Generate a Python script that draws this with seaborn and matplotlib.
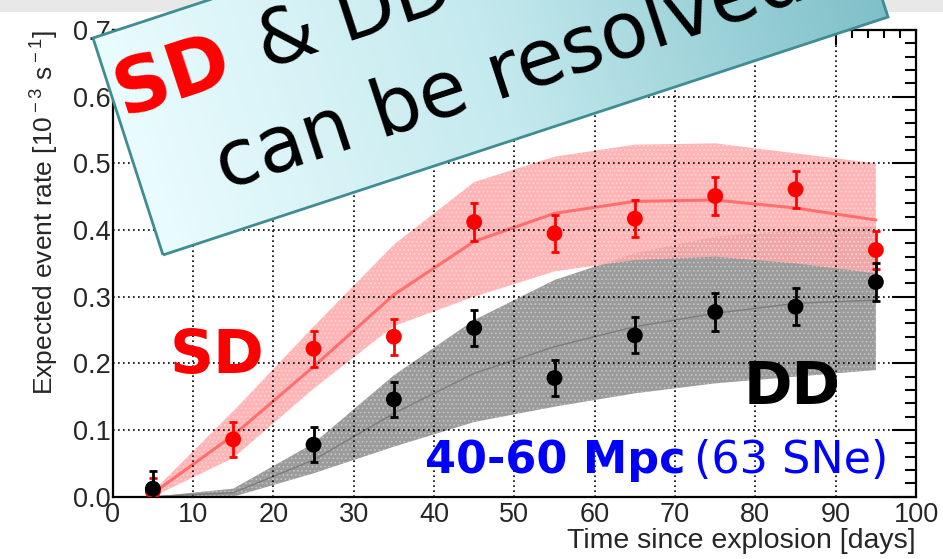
import numpy as np
import matplotlib
matplotlib.use("Agg")
import matplotlib.pyplot as plt
from matplotlib.patches import Polygon, Rectangle
from matplotlib.colors import LinearSegmentedColormap
from matplotlib.ticker import MultipleLocator, FormatStrFormatter
import seaborn as sns

# Binned expected event rates (10^-3 s^-1) versus time since explosion
days = [5, 15, 25, 35, 45, 55, 65, 75, 85, 95]
sd_rate = [0.008, 0.086, 0.222, 0.240, 0.412, 0.395, 0.417, 0.451, 0.461, 0.370]
sd_err = [0.020, 0.026, 0.027, 0.027, 0.028, 0.028, 0.028, 0.028, 0.028, 0.028]
dd_rate = [0.012, None, 0.078, 0.146, 0.253, 0.178, 0.242, 0.277, 0.285, 0.322]
dd_err = [0.026, None, 0.026, 0.026, 0.027, 0.027, 0.027, 0.028, 0.028, 0.028]

# Model expectation and its uncertainty band for each scenario
sd_model = [0.005, 0.092, 0.195, 0.303, 0.383, 0.425, 0.443, 0.445, 0.433, 0.415]
sd_low = [0.000, 0.058, 0.162, 0.256, 0.300, 0.338, 0.355, 0.360, 0.350, 0.335]
sd_high = [0.008, 0.128, 0.255, 0.378, 0.472, 0.510, 0.528, 0.530, 0.515, 0.500]
dd_model = [0.000, 0.006, 0.055, 0.125, 0.185, 0.225, 0.255, 0.275, 0.290, 0.295]
dd_low = [0.000, 0.000, 0.035, 0.075, 0.112, 0.135, 0.155, 0.170, 0.180, 0.190]
dd_high = [0.000, 0.012, 0.080, 0.182, 0.265, 0.325, 0.365, 0.390, 0.400, 0.405]

x_ticks = list(range(0, 101, 10))
y_ticks = [0.0, 0.1, 0.2, 0.3, 0.4, 0.5, 0.6, 0.7]

sns.set_style("white")
plt.rcParams["font.family"] = ["Liberation Sans", "DejaVu Sans"]
plt.rcParams["mathtext.fontset"] = "custom"
plt.rcParams["mathtext.rm"] = "Liberation Sans"
plt.rcParams["hatch.linewidth"] = 0.7

fig = plt.figure(figsize=(9.43, 5.59), dpi=100)
fig.patch.set_facecolor("white")
ax = fig.add_axes([0.1195, 0.1115, 0.8519, 0.8348])

# uncertainty bands (stippled)
ax.fill_between(days, dd_low, dd_high, facecolor="#9b9b9b", edgecolor="#c4c4c4",
                hatch="....", linewidth=0, zorder=1)
ax.fill_between(days, sd_low, sd_high, facecolor="#ffa8a8", edgecolor="#ffd9d9",
                hatch="....", linewidth=0, alpha=0.85, zorder=1.2)

# model curves
sns.lineplot(x=days, y=sd_model, color="#ff6f6f", linewidth=2.2, ax=ax, zorder=2)
sns.lineplot(x=days, y=dd_model, color="#7c7c7c", linewidth=1.0, ax=ax, zorder=2)

# binned rates with errors
sd_x = [d for d, v in zip(days, sd_rate) if v is not None]
sd_y = [v for v in sd_rate if v is not None]
sd_e = [e for e in sd_err if e is not None]
dd_x = [d for d, v in zip(days, dd_rate) if v is not None]
dd_y = [v for v in dd_rate if v is not None]
dd_e = [e for e in dd_err if e is not None]

ax.errorbar(sd_x, sd_y, yerr=sd_e, fmt="none", ecolor="#ff0000", elinewidth=2,
            capsize=3, capthick=2, zorder=3)
sns.scatterplot(x=sd_x, y=sd_y, color="#ff0000", s=130, edgecolor="none", ax=ax, zorder=3.1)
ax.errorbar(dd_x, dd_y, yerr=dd_e, fmt="none", ecolor="black", elinewidth=2,
            capsize=3, capthick=2, zorder=3.2)
sns.scatterplot(x=dd_x, y=dd_y, color="black", s=130, edgecolor="none", ax=ax, zorder=3.3)

# axes styling
ax.set_xlim(0, 100)
ax.set_ylim(0, 0.7)
ax.set_xticks(x_ticks)
ax.set_yticks(y_ticks)
ax.xaxis.set_minor_locator(MultipleLocator(2))
ax.yaxis.set_minor_locator(MultipleLocator(0.02))
ax.yaxis.set_major_formatter(FormatStrFormatter("%.1f"))
ax.grid(True, which="major", color="black", linestyle=(0, (1, 2)), linewidth=1.2)
ax.set_axisbelow(False)
ax.tick_params(axis="both", which="both", direction="in", top=True, right=True,
               width=1.5, color="black", labelsize=19.5)
ax.tick_params(axis="x", which="major", length=11, pad=4)
ax.tick_params(axis="x", which="minor", length=6)
ax.tick_params(axis="y", which="major", length=17, pad=1.5)
ax.tick_params(axis="y", which="minor", length=8)
for sp in ax.spines.values():
    sp.set_linewidth(1.6)
    sp.set_color("black")

ax.set_xlabel("Time since explosion [days]", loc="right", fontsize=20.5, labelpad=0)
ax.set_ylabel(r"Expected event rate [10$^{\rm -3}$ s$^{\rm -1}$]", loc="top",
              fontsize=19, labelpad=9)

# scenario labels
ax.text(12.95, 0.21, "SD", color="#ff0000", fontsize=44, fontweight="bold",
        family="DejaVu Sans", ha="center", va="center", zorder=5)
ax.text(84.6, 0.164, "DD", color="black", fontsize=42, fontweight="bold",
        family="DejaVu Sans", ha="center", va="center", zorder=5)
ax.text(38.9, 0.0355, "40-60 Mpc", color="#0000ff", fontsize=32, fontweight="bold",
        family="DejaVu Sans", ha="left", va="baseline", zorder=5)
ax.text(72.3, 0.0355, "(63 SNe)", color="#0000ff", fontsize=32,
        family="DejaVu Sans", ha="left", va="baseline", zorder=5)

# overlay in pixel coordinates for the banner
ov = fig.add_axes([0, 0, 1, 1])
ov.set_xlim(0, 943)
ov.set_ylim(559, 0)
ov.axis("off")
ov.patch.set_alpha(0)

ov.add_patch(Rectangle((0, 0), 943, 12, facecolor="#e8e8e8", edgecolor="none", zorder=1))

corners = np.array([[163, 255], [888, 17], [818, -200], [93, 38]], dtype=float)
u = corners[1] - corners[0]
w = np.hypot(*u)
u = u / w
gx = np.linspace(80, 900, 600)
gy = np.linspace(-210, 265, 400)
GX, GY = np.meshgrid(gx, gy)
t = ((GX - corners[0, 0]) * u[0] + (GY - corners[0, 1]) * u[1]) / w
t = np.clip(t, 0, 1)
cmap = LinearSegmentedColormap.from_list("banner", ["#eafcfe", "#c3e9ee", "#7fc0c8"])
im = ov.imshow(t, extent=(80, 900, 265, -210), origin="upper", cmap=cmap,
               aspect="auto", zorder=5, vmin=0, vmax=1)
banner = Polygon(corners, closed=True, facecolor="none", edgecolor="#3f8d93",
                 linewidth=2, zorder=6, transform=ov.transData)
ov.add_patch(banner)
im.set_clip_path(banner)
ov.set_xlim(0, 943)
ov.set_ylim(559, 0)

ang = 18.2
ov.text(123, 116, "SD", color="#ff0000", fontsize=55, fontweight="bold",
        family="DejaVu Sans", rotation=ang, rotation_mode="anchor",
        ha="left", va="baseline", zorder=7)
ov.text(266, 69, "& DD", color="black", fontsize=55,
        family="DejaVu Sans", rotation=ang, rotation_mode="anchor",
        ha="left", va="baseline", zorder=7)
ov.text(225, 190, "can be resolved", color="black", fontsize=56,
        family="DejaVu Sans", rotation=ang, rotation_mode="anchor",
        ha="left", va="baseline", zorder=7)

fig.savefig("out.png", dpi=100, facecolor="white")
